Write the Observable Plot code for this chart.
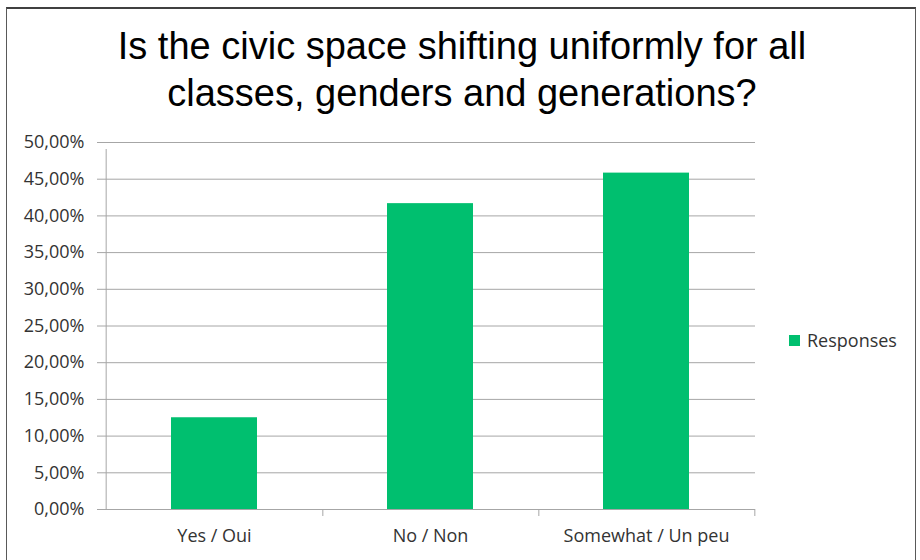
<!DOCTYPE html>
<html>
<head>
<meta charset="utf-8">
<script src="https://cdn.jsdelivr.net/npm/d3@7"></script>
<script src="https://cdn.jsdelivr.net/npm/@observablehq/plot@0.6"></script>
<style>
  html, body { margin: 0; padding: 0; background: #fff; }
  #wrap { position: relative; width: 920px; height: 560px; overflow: hidden; background: #fff; }
  #border { position: absolute; left: 6px; top: 7px; width: 910px; height: 600px; border: 1px solid #595959; border-top: 2px solid #404040; box-sizing: border-box; }
  #title { position: absolute; left: 0; top: 23px; width: 924px; text-align: center; font-family: "Liberation Sans", Arial, sans-serif; font-size: 38px; line-height: 47px; color: #000; }
  #chart { position: absolute; left: 0; top: 130px; }
  #legend { position: absolute; left: 789px; top: 328px; font-family: "Open Sans", sans-serif; font-size: 18px; color: #333; display: flex; align-items: center; }
  #legend .sw { display: inline-block; width: 11px; height: 11px; margin-right: 7px; }
</style>
</head>
<body>
<div id="wrap">
  <div id="border"></div>
  <div id="title">Is the civic space shifting uniformly for all<br>classes, genders and generations?</div>
  <div id="chart"></div>
  <div id="legend"><span class="sw"></span><span id="legtext"></span></div>
</div>
<script>
const categories = ["Yes / Oui", "No / Non", "Somewhat / Un peu"];
const responses = [0.125, 0.4167, 0.4583];
const yTicks = [0, 0.05, 0.10, 0.15, 0.20, 0.25, 0.30, 0.35, 0.40, 0.45, 0.50];
const seriesName = "Responses";
const barColor = "#00bf6f";
const gridColor = "#a6a6a6";
const textColor = "#333333";

const data = categories.map((c, i) => ({category: c, value: responses[i]}));

const W = 920, H = 430, ML = 105, MR = 165, MT = 12, MB = 51;
const step = (W - ML - MR) / categories.length;
const fmt = d => (d * 100).toFixed(2).replace(".", ",") + "%";

const chart = Plot.plot({
  width: W,
  height: H,
  marginTop: MT,
  marginBottom: MB,
  marginLeft: ML,
  marginRight: MR,
  style: {fontFamily: "'Open Sans', sans-serif", fontSize: "18px", background: "transparent", color: textColor},
  x: {domain: categories, paddingInner: 0.6, paddingOuter: 0.3, label: null},
  y: {domain: [0, 0.5], label: null},
  marks: [
    Plot.ruleY(yTicks, {stroke: gridColor, strokeWidth: 1, strokeOpacity: 1}),
    Plot.ruleX([categories[0]], {x: d => d, dx: -step / 2, y1: 0, y2: 0.5, insetBottom: -7, stroke: gridColor}),
    Plot.ruleX(categories, {x: d => d, dx: step / 2, y1: 0, y2: 0, insetBottom: -7, stroke: gridColor}),
    Plot.barY(data, {x: "category", y: "value", fill: barColor}),
    Plot.axisY({ticks: yTicks, tickFormat: fmt, tickSize: 8, tickPadding: 13, stroke: gridColor, fill: textColor, label: null}),
    Plot.axisX({tickSize: 0, tickPadding: 20, fill: textColor, label: null})
  ]
});
document.getElementById("chart").appendChild(chart);
document.getElementById("legtext").textContent = seriesName;
document.querySelector("#legend .sw").style.background = barColor;
</script>
</body>
</html>
